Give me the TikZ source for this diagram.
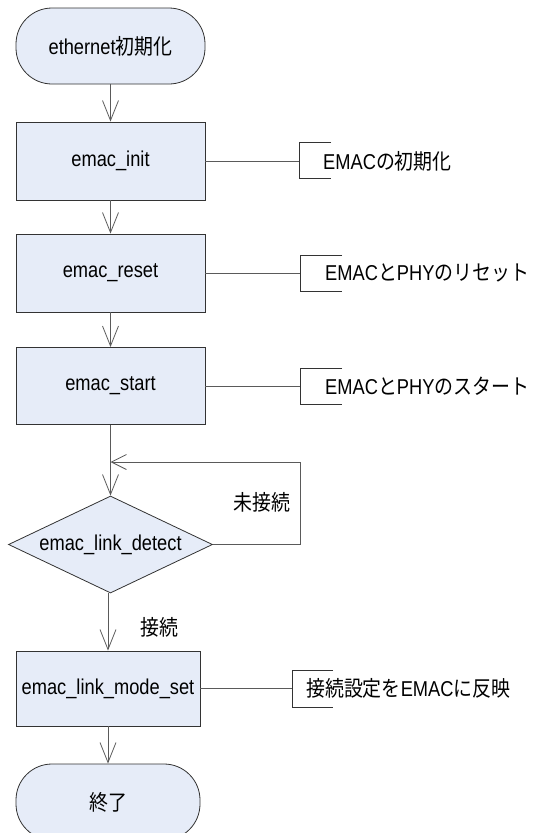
\documentclass[tikz,border=0pt]{standalone}
\usepackage{fontspec}
\setmainfont{Liberation Sans}[FakeStretch=0.85]
\newfontfamily\jp{Noto Sans CJK JP}[FakeStretch=0.88]
\usetikzlibrary{arrows.meta,shapes.geometric,positioning}
\definecolor{boxblue}{RGB}{230,236,248}
\definecolor{linegray}{RGB}{90,90,90}
\tikzset{
  every node/.style={font=\fontsize{21.5}{24}\selectfont},
  proc/.style={rectangle,draw=black!80,fill=boxblue,line width=0.8pt,inner sep=0pt},
  term/.style={rectangle,rounded corners=36pt,draw=black!80,fill=boxblue,line width=0.8pt,inner sep=0pt},
  deci/.style={diamond,draw=black!80,fill=boxblue,line width=0.8pt,inner sep=0pt,aspect=2.1},
  conn/.style={draw=linegray,line width=0.8pt},
  flow/.style={conn,-{Straight Barb[length=20pt,width=16pt,line width=0.8pt]}},
  back/.style={conn,-{Straight Barb[length=15pt,width=15pt,line width=0.8pt]}},
  brk/.style={draw=black!80,line width=0.8pt},
  note/.style={anchor=west,inner sep=0pt}
}
\begin{document}
\begin{tikzpicture}[x=1pt,y=-1pt]
\useasboundingbox[fill=white] (0,0) rectangle (537,833);
% main flow nodes
\node[term,minimum width=189pt,minimum height=76pt] (start) at (110.5,46) {ethernet{\jp 初期化}};
\node[proc,minimum width=189pt,minimum height=78pt] (init) at (110.5,161) {emac\_init};
\node[proc,minimum width=189pt,minimum height=78pt] (reset) at (110.5,273) {emac\_reset};
\node[proc,minimum width=189pt,minimum height=77pt] (estart) at (110.5,386) {emac\_start};
\node[deci,minimum width=204pt,minimum height=97pt] (detect) at (110.5,544.5) {emac\_link\_detect};
\node[proc,minimum width=184pt,minimum height=75pt] (mode) at (108,688.5) {emac\_link\_mode\_set};
\node[term,minimum width=184pt,minimum height=76pt] (fin) at (108,802) {\jp 終了};
% flow arrows
\draw[flow] (start) -- (init);
\draw[flow] (init) -- (reset);
\draw[flow] (reset) -- (estart);
\draw[flow] (estart.south) -- (detect.north);
\draw[flow] (detect.south -| mode.north) -- (mode.north);
\draw[flow] (mode) -- (fin);
% feedback loop
\coordinate (lr) at (300,544.5);
\coordinate (ur) at (300,462);
\coordinate (ul) at (110.5,462);
\draw[back] (detect.east) -- (lr) -- (ur) -- (ul);
\node[inner sep=0pt] (nc) at (262,502) {\jp 未接続};
\node[inner sep=0pt] (cn) at (159,627) {\jp 接続};
% annotations
\coordinate (b1) at (299,161);
\draw[conn] (init.east) -- (b1);
\draw[brk] (331,142) -- (299,142) -- (299,178) -- (331,178);
\node[note] (n1) at (323,161) {EMAC{\jp の初期化}};
\coordinate (b2) at (300,273);
\draw[conn] (reset.east) -- (b2);
\draw[brk] (342,255) -- (300,255) -- (300,291) -- (342,291);
\node[note] (n2) at (325,273) {EMAC{\jp と}PHY{\jp のリセット}};
\coordinate (b3) at (300,386);
\draw[conn] (estart.east) -- (b3);
\draw[brk] (342,368) -- (300,368) -- (300,404) -- (342,404);
\node[note] (n3) at (325,386) {EMAC{\jp と}PHY{\jp のスタート}};
\coordinate (b4) at (292,688.5);
\draw[conn] (mode.east) -- (b4);
\draw[brk] (333,670) -- (292,670) -- (292,707) -- (333,707);
\node[note] (n4) at (306,688.5) {{\jp 接続設定を}EMAC{\jp に反映}};
\end{tikzpicture}
\end{document}
